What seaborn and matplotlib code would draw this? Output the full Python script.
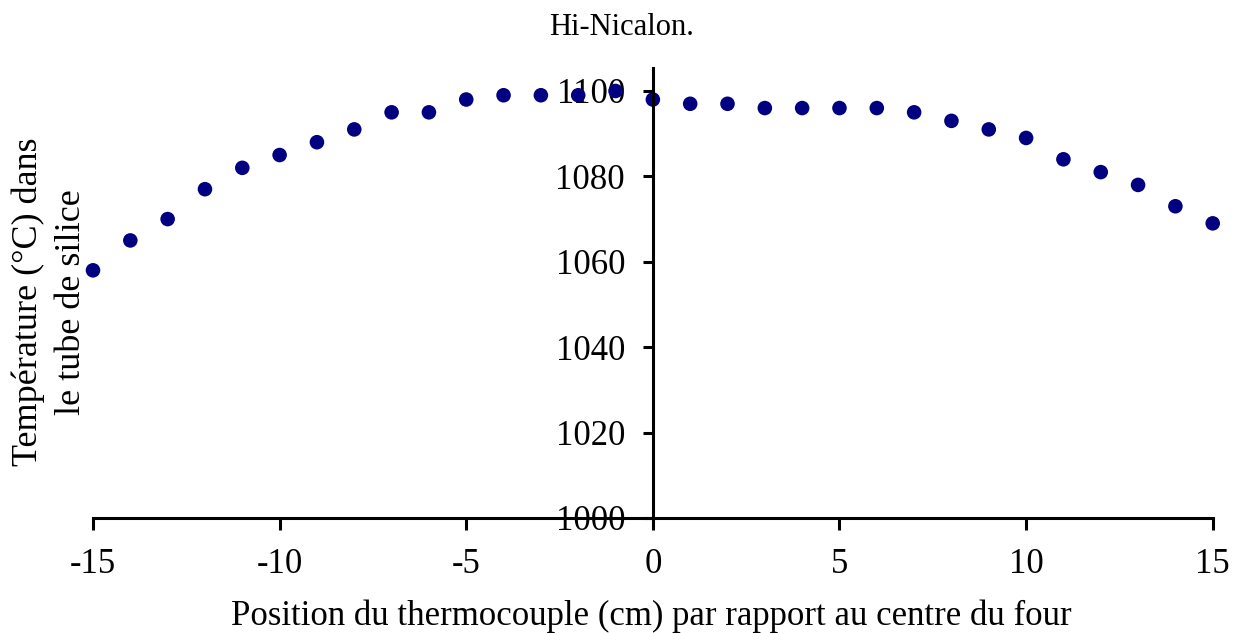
import matplotlib
matplotlib.use("Agg")
import matplotlib.pyplot as plt
import seaborn as sns
import pandas as pd

sns.set_theme(style="white")
plt.rcParams["font.family"] = ["Liberation Serif", "DejaVu Serif"]
plt.rcParams["axes.unicode_minus"] = False

# Position du thermocouple (cm) et température (°C)
positions = [-15, -14, -13, -12, -11, -10, -9, -8, -7, -6, -5, -4, -3, -2, -1,
             0, 1, 2, 3, 4, 5, 6, 7, 8, 9, 10, 11, 12, 13, 14, 15]
temperatures = [1058, 1065, 1070, 1077, 1082, 1085, 1088, 1091, 1095, 1095, 1098, 1099, 1099, 1099, 1100,
                1098, 1097, 1097, 1096, 1096, 1096, 1096, 1095, 1093, 1091, 1089, 1084, 1081, 1078, 1073, 1069]
x_ticks = [-15, -10, -5, 0, 5, 10, 15]
y_ticks = [1000, 1020, 1040, 1060, 1080, 1100]

df = pd.DataFrame({"pos": positions, "temp": temperatures})

fig = plt.figure(figsize=(12.4, 6.33), dpi=100)
ax = fig.add_axes([0.075, 0.1817, 0.903, 0.711])
sns.scatterplot(data=df, x="pos", y="temp", color="#000080", s=110,
                edgecolor="none", ax=ax, zorder=1, clip_on=False)

ax.set_xlim(-15, 15)
ax.set_ylim(1000, 1105.4)
ax.spines["left"].set_position(("data", 0))
ax.spines["bottom"].set_position(("data", 1000))
ax.spines["right"].set_visible(False)
ax.spines["top"].set_visible(False)
for sp in ("left", "bottom"):
    ax.spines[sp].set_linewidth(2.2)
    ax.spines[sp].set_color("black")

ax.set_xticks(x_ticks)
ax.set_yticks(y_ticks)
ax.tick_params(axis="both", bottom=True, left=True, direction="out", length=7,
               width=2.2, colors="black", labelcolor="black", labelsize=25, pad=13)
ax.tick_params(axis="x", length=8.6)
for lbl in ax.get_yticklabels():
    lbl.set_zorder(5)

ax.set_xlabel("")
ax.set_ylabel("")
fig.text(0.525, 0.0126, "Position du thermocouple (cm) par rapport au centre du four",
         ha="center", va="baseline", fontsize=25, color="black")
fig.text(0.040, 0.523, "Température (°C) dans\nle tube de silice", rotation=90,
         ha="center", va="center", fontsize=26, linespacing=1.38, color="black")
fig.text(0.501, 0.945, "Hi-Nicalon.", ha="center", va="baseline", fontsize=22, color="black")

fig.savefig("out.png", dpi=100)
